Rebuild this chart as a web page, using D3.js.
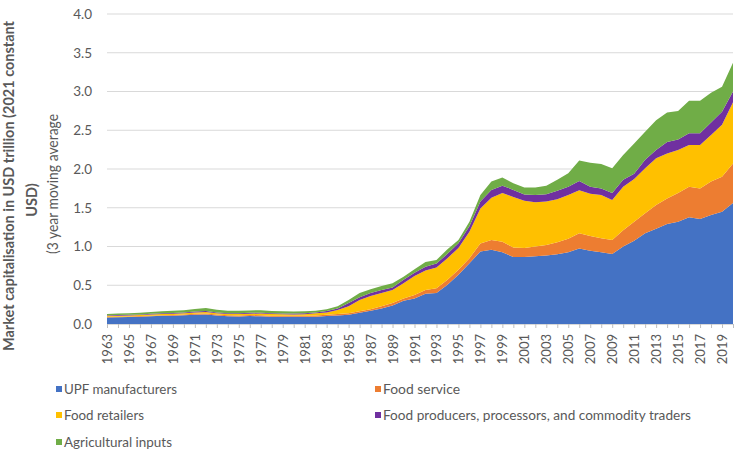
<!DOCTYPE html>
<html>
<head>
<meta charset="utf-8">
<script src="https://cdn.jsdelivr.net/npm/d3@7"></script>
<style>
  html, body { margin: 0; padding: 0; background: #fff; }
  svg { display: block; font-family: Lato, "Open Sans", sans-serif; }
</style>
</head>
<body>
<svg id="chart" width="744" height="455"></svg>
<script>
const years = d3.range(1963, 2021);
const seriesNames = ["UPF manufacturers", "Food service", "Food retailers",
  "Food producers, processors, and commodity traders", "Agricultural inputs"];
const seriesColors = ["#4472C4", "#ED7D31", "#FFC000", "#7030A0", "#70AD47"];
const yTicks = [0, 0.5, 1.0, 1.5, 2.0, 2.5, 3.0, 3.5, 4.0];

const upf = [0.085,0.088,0.090,0.095,0.100,0.105,0.108,0.112,0.120,0.122,
  0.110,0.100,0.098,0.102,0.100,0.095,0.093,0.092,0.093,0.095,
  0.103,0.110,0.120,0.146,0.170,0.200,0.240,0.300,0.330,0.390,
  0.400,0.505,0.635,0.785,0.935,0.957,0.927,0.863,0.863,0.875,
  0.884,0.900,0.927,0.975,0.945,0.925,0.903,1.000,1.075,1.170,
  1.230,1.290,1.320,1.376,1.355,1.405,1.450,1.560];
const foodService = [0.007,0.007,0.007,0.007,0.008,0.008,0.009,0.010,0.012,0.015,
  0.012,0.012,0.012,0.013,0.014,0.013,0.013,0.013,0.014,0.015,
  0.017,0.020,0.018,0.017,0.020,0.030,0.030,0.030,0.045,0.050,
  0.060,0.065,0.065,0.065,0.105,0.128,0.133,0.124,0.117,0.125,
  0.136,0.156,0.173,0.195,0.190,0.180,0.181,0.210,0.245,0.260,
  0.305,0.330,0.370,0.394,0.395,0.435,0.450,0.510];
const retailers = [0.013,0.013,0.013,0.013,0.014,0.015,0.016,0.016,0.018,0.018,
  0.016,0.016,0.018,0.018,0.021,0.020,0.019,0.018,0.020,0.028,
  0.030,0.050,0.092,0.147,0.170,0.170,0.170,0.195,0.245,0.250,
  0.270,0.280,0.280,0.340,0.450,0.545,0.630,0.653,0.610,0.570,
  0.560,0.554,0.565,0.555,0.545,0.560,0.516,0.560,0.550,0.580,
  0.605,0.580,0.555,0.540,0.560,0.600,0.670,0.790];
const producers = [0.007,0.007,0.008,0.009,0.009,0.010,0.010,0.012,0.012,0.013,
  0.012,0.012,0.012,0.012,0.011,0.012,0.012,0.012,0.012,0.012,
  0.018,0.020,0.040,0.035,0.040,0.040,0.030,0.045,0.040,0.050,
  0.050,0.055,0.063,0.070,0.090,0.100,0.095,0.090,0.080,0.095,
  0.095,0.110,0.105,0.120,0.090,0.085,0.090,0.090,0.070,0.110,
  0.105,0.150,0.135,0.150,0.150,0.160,0.170,0.140];
const agInputs = [0.018,0.020,0.020,0.021,0.024,0.027,0.027,0.028,0.033,0.037,
  0.035,0.030,0.030,0.030,0.032,0.028,0.028,0.027,0.027,0.022,
  0.022,0.030,0.040,0.055,0.047,0.050,0.055,0.040,0.045,0.060,
  0.046,0.060,0.042,0.060,0.085,0.110,0.105,0.085,0.090,0.095,
  0.110,0.140,0.175,0.265,0.310,0.315,0.320,0.320,0.390,0.360,
  0.385,0.380,0.370,0.420,0.420,0.385,0.320,0.370];

const seriesValues = [upf, foodService, retailers, producers, agInputs];
const keys = ["s0","s1","s2","s3","s4"];
const table = years.map((yr, i) => {
  const row = { year: yr };
  keys.forEach((k, j) => row[k] = seriesValues[j][i]);
  return row;
});

const svg = d3.select("#chart");
const x = d3.scaleLinear().domain([1963, 2020]).range([107, 733]);
const y = d3.scaleLinear().domain([0, 4]).range([324, 14]);
const textColor = "#595959";

// gridlines
svg.append("g").selectAll("line").data(yTicks.filter(d => d > 0)).join("line")
  .attr("x1", 107).attr("x2", 733)
  .attr("y1", d => y(d)).attr("y2", d => y(d))
  .attr("stroke", "#d9d9d9").attr("stroke-width", 1);

// stacked areas
const stacked = d3.stack().keys(keys)(table);
const area = d3.area()
  .x(d => x(d.data.year))
  .y0(d => y(d[0]))
  .y1(d => y(d[1]));
svg.append("g").selectAll("path").data(stacked).join("path")
  .attr("d", area)
  .attr("fill", (d, i) => seriesColors[i]);

// y axis labels
const yAxis = d3.axisLeft(y).tickValues(yTicks).tickFormat(d3.format(".1f")).tickSize(0).tickPadding(0);
const gy = svg.append("g").attr("transform", "translate(92,0)").call(yAxis);
gy.select(".domain").remove();
gy.selectAll("text").attr("fill", textColor).style("font-size", "13.5px")
  .style("font-family", "Lato, sans-serif");

// x axis
const xAxis = d3.axisBottom(x).tickValues(years).tickSize(4).tickFormat(d => (d - 1963) % 2 === 0 ? d : "");
const gx = svg.append("g").attr("transform", "translate(0,324)").call(xAxis);
gx.select(".domain").attr("stroke", "#d9d9d9");
gx.selectAll(".tick line").attr("stroke", "#bfbfbf");
gx.selectAll("text")
  .attr("fill", textColor).style("font-size", "13px").style("font-family", "Lato, sans-serif")
  .attr("text-anchor", "end")
  .attr("dy", null).attr("y", 0).attr("x", 0)
  .attr("transform", "translate(4.5,10) rotate(-90)");

// y axis title
svg.append("text")
  .attr("transform", "translate(14,186) rotate(-90)")
  .attr("text-anchor", "middle").attr("fill", textColor)
  .style("font-size", "14.5px").style("font-weight", "bold")
  .attr("textLength", 330).attr("lengthAdjust", "spacingAndGlyphs")
  .text("Market capitalisation in USD trillion (2021 constant");
svg.append("text")
  .attr("transform", "translate(37,200) rotate(-90)")
  .attr("text-anchor", "middle").attr("fill", textColor)
  .style("font-size", "14.5px").style("font-weight", "bold")
  .text("USD)");
svg.append("text")
  .attr("transform", "translate(58,184) rotate(-90)")
  .attr("text-anchor", "middle").attr("fill", textColor)
  .style("font-size", "14.5px")
  .attr("textLength", 140).attr("lengthAdjust", "spacingAndGlyphs")
  .text("(3 year moving average");

// legend
const legendPos = [[56, 389], [375, 389], [56, 415], [375, 415], [56, 442]];
const lg = svg.append("g").selectAll("g").data(seriesNames).join("g")
  .attr("transform", (d, i) => `translate(${legendPos[i][0]},${legendPos[i][1]})`);
lg.append("rect").attr("x", 0).attr("y", -3).attr("width", 6).attr("height", 6)
  .attr("fill", (d, i) => seriesColors[i]);
lg.append("text").attr("x", 8).attr("y", 0).attr("dy", "0.35em")
  .attr("fill", textColor).style("font-size", "13.5px")
  .attr("textLength", (d, i) => [113, 77, 80, 308, 108][i]).attr("lengthAdjust", "spacingAndGlyphs")
  .text(d => d);
</script>
</body>
</html>
